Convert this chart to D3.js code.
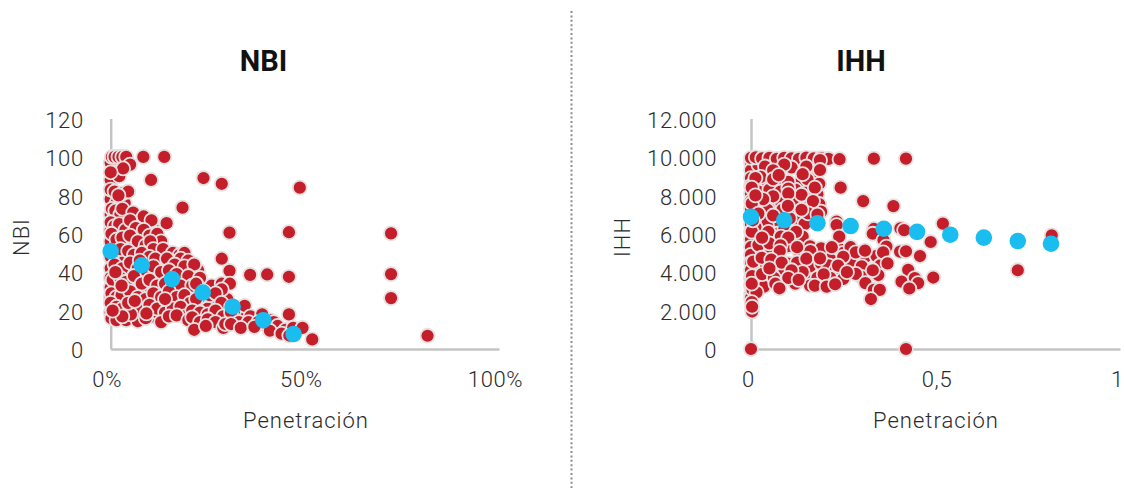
<!DOCTYPE html>
<html>
<head>
<meta charset="utf-8">
<script src="https://cdn.jsdelivr.net/npm/d3@7"></script>
<style>
  html, body { margin: 0; padding: 0; background: #fff; }
  svg { display: block; }
  text { font-family: Roboto, "Open Sans", sans-serif; fill: #2b2b2b; }
  .tick text { font-size: 22px; font-weight: 300; letter-spacing: 0.6px; }
  .axis-title { font-size: 22px; font-weight: 300; letter-spacing: 1px; }
  .chart-title { font-size: 29px; font-weight: 700; fill: #111; }
</style>
</head>
<body>
<svg id="chart" width="1124" height="488"></svg>
<script>
// [penetration %, NBI]
var nbiPoints = [
  [0,97],[0,88],[0,78],[0,70],[0,62],[0,56],[0,48],[0,42],[0,37],[0,32],[0,27],[0,19],
  [1,92],[2.2,90],[1.5,76],[3.6,76],[1.8,68],[4,68],[5.6,66],[6.8,66],[7.5,60],[9.5,64],[11.2,62],[4.2,56],[6,53],[8.2,58],[11.6,54],
  [2,47],[3.8,47],[6.4,44],[9,45],[12.4,45],[15,44],[17.6,41],[1.8,38],[3.4,39],[5.6,40],[7.8,38],[10.4,38],[12.6,37],[15,37],[18.6,36],
  [3.6,32],[6,32],[8.2,30],[10.2,32],[12.4,30],[14.6,32],[16.6,31],[20,31],[23,27],[26,33],[2,25],[4,27],[7.8,23],[10.4,25],[12.6,24],[15,24],
  [17,25],[19,25],[24,23],[26,24],[30,26],[32,18],[33,20],[37,16],[41,15],[25,21],[2,19],[4.2,19],[6.8,16],[11,17],[12,19],[22,17],[27,16],[35,17],
  [0.3,100],[1,100],[2,100],[3,100],[4,100],[8.4,100],[13.8,100],[5,96],[3.2,94],[0,92],[10.4,88],[23.9,89],[28.6,86],[48.7,84],
  [0,83],[1,82],[3,81],[4.5,82],[2,80],[0.3,73],[1.2,72],[2.5,70],[3,73],[5.8,71],[8.5,69],[10.5,67],[18.5,73.6],[14.4,65.5],
  [30.6,60.6],[45.9,60.8],[0,66],[1,64],[2.2,65],[3.8,62],[5,67],[6.5,63],[8.5,62],[10,59],[12,60],[13,56],[0.2,60],[1.5,57],
  [3,58],[5,59],[7,56],[9,54],[10.2,56],[11,52],[13.5,52],[16,50],[17.8,49],[19,50],[18,47],[20,46],[0.3,51],[2.5,52],[4.5,51],
  [6,49],[8,50],[10,48],[11.5,47],[14.5,47],[16.5,44],[19,43],[22.5,41],[21.5,44],[1,44],[3,42],[5,45],[7,42],[9,41],[11,43],
  [13,40],[15,41],[17,39],[20,38],[23,37],[0.5,36],[2.5,37],[4,35],[6,38],[8,34],[10,36],[12,33],[14,34],[16,35],[18,33],
  [21,33],[22,34],[24,30],[25.5,28],[0.2,29],[1.5,27],[2.8,28],[5,30],[7,27],[9,26],[11,29],[13,27],[15,30],[17,27],[19,28],
  [20.5,24],[22,26],[28.6,47],[30.6,40.7],[35.9,38.6],[40.3,38.8],[45.9,37.6],[28.6,34],[30.7,34],[28.6,31],[27,29],[28.5,24],
  [31,22],[34.5,22.5],[36,17],[39,18],[45.9,18],[0,24],[1.5,22],[3,21],[5,22],[6,19],[8,20],[10,23],[12,21],[14,19],[16,21],
  [18,22],[19,17],[21,20],[23,19],[25,18],[27,20],[29,17],[31,19],[33,14],[35.5,14],[38,14],[40,13],[42,14],[43,12],[45,10],
  [47,11],[49.4,11],[51.9,5],[0.2,16],[1.5,15],[4,15],[7,14.5],[9,16],[13,14],[15,17],[17,17.5],[20,15],[21,16.5],[23,14],
  [25,15.5],[27,14],[29,11],[29.5,13],[31,13],[33.5,11],[37,11.5],[41,9.5],[44,8],[46,7],[21.5,10],[24.5,12],[5.2,18],[3,17],
  [0.5,20],[2.8,33],[4.5,24],[6.2,25],[9.2,18.5],[14,26],[1.2,40],[7.5,46],[72.2,60.2],[72.2,39],[72.2,26.5],[81.6,6.9]
];
var nbiMeans = [[0,51],[8,43.6],[15.8,36.4],[23.7,29.4],[31.4,22],[39.3,15],[47.1,7.8]];

// [penetration, IHH]
var ihhPoints = [
  [0,9700],[0,9300],[0,8900],[0,8500],[0,8100],[0,7700],[0,7300],[0,6900],[0,6500],[0,6100],[0,5700],[0,5300],[0,4900],[0,4500],[0,4100],[0,3700],[0,3300],[0,2900],[0,2650],
  [0.02,9600],[0.04,9300],[0.07,9450],[0.12,9600],[0.145,9300],[0.17,9600],[0.025,8500],[0.045,8650],[0.08,8700],[0.13,8600],[0.175,8900],[0.185,8600],
  [0.02,8200],[0.05,8300],[0.08,8200],[0.12,8300],[0.15,8150],[0.18,8050],[0.025,7600],[0.05,7550],[0.08,7700],[0.125,7600],[0.16,7500],[0.185,7550],
  [0.02,7200],[0.045,7250],[0.085,7250],[0.125,7100],[0.15,6700],[0.19,7150],[0.02,6700],[0.045,6600],[0.08,6550],[0.12,6650],[0.145,6500],[0.02,6050],
  [0.05,5800],[0.07,6000],[0.115,5650],[0.14,5850],[0.03,5150],[0.055,5250],[0.1,5350],[0.13,5100],[0.16,5350],[0.18,4850],[0.205,4800],[0.22,5000],
  [0.24,5200],[0.25,5000],[0.27,4950],[0.295,4700],[0.31,4800],[0.34,4850],[0.02,4300],[0.04,4400],[0.07,4250],[0.1,4450],[0.125,4500],[0.16,4300],
  [0.19,4450],[0.21,4350],[0.23,4100],[0.27,4500],[0.3,4300],[0.35,4350],[0.02,3600],[0.045,3550],[0.085,3850],[0.12,3400],[0.15,3600],[0.18,3700],
  [0.215,3700],[0.25,3650],[0.3,3750],[0.345,3850],[0.035,3250],[0.055,3900],[0.16,3300],
  [0,9950],[0.013,9980],[0.03,9920],[0.05,9950],[0.07,9900],[0.09,9950],[0.11,9930],[0.13,9900],[0.15,9960],[0.17,9920],[0.19,9940],
  [0.21,9900],[0.24,9880],[0.333,9910],[0.42,9910],[0.187,9830],[0.187,9320],[0.15,9500],[0.11,9450],[0.09,9600],[0.038,9500],[0.06,9300],
  [0.026,8960],[0.06,8840],[0.101,8700],[0.153,8840],[0.173,8400],[0.012,8900],[0.243,8400],[0.304,7700],[0.386,7440],[0.002,8400],
  [0.137,8030],[0.101,8350],[0.101,8100],[0.06,7950],[0.033,7800],[0.168,7700],[0.002,7580],[0.012,8000],[0.155,7060],[0.137,7250],
  [0.18,7000],[0.02,7050],[0.06,6950],[0.105,6800],[0.232,6630],[0.232,6450],[0.52,6530],[0.333,6250],[0.405,6280],[0.415,6190],[0.33,6000],
  [0.012,6350],[0.047,6100],[0.09,6200],[0.122,6100],[0.002,6110],[0.081,5850],[0.101,5800],[0.239,5850],[0.359,5670],[0.487,5570],
  [0.02,5410],[0.05,5500],[0.08,5400],[0.078,5100],[0.19,5240],[0.161,5100],[0.219,5300],[0.27,5300],[0.367,5330],[0.284,5030],[0.309,5120],
  [0.358,5030],[0.404,5070],[0.42,5090],[0.458,4840],[0.006,4550],[0.029,4750],[0.055,4650],[0.083,4500],[0.15,4700],[0.187,4720],[0.25,4800],
  [0.236,4340],[0.37,4460],[0.33,4100],[0.426,4120],[0.284,3910],[0.26,4000],[0.197,3890],[0.14,4000],[0.11,4100],[0.003,3800],[0.03,3900],
  [0.062,3700],[0.101,3700],[0.129,3600],[0.066,3400],[0.077,3160],[0.173,3300],[0.205,3250],[0.228,3370],[0.31,3430],[0.333,3080],[0.349,3080],
  [0.325,2600],[0.494,3720],[0.408,3510],[0.444,3690],[0.453,3430],[0.429,3150],[0.004,3110],[0.015,2950],[0.002,3400],[0.002,2440],[0.003,1950],
  [0.003,2200],[0,0],[0.42,0],[0.005,6700],[0.03,5800],[0.05,4200],[0.125,5300],[0.1,7450],[0.14,9100],[0.075,9050],
  [0.815,5920],[0.723,4100]
];
var ihhMeans = [[0,6880],[0.09,6700],[0.18,6550],[0.27,6400],[0.36,6260],[0.45,6100],[0.54,5950],[0.631,5800],[0.723,5620],[0.813,5480]];

var nbiTicks = [0, 20, 40, 60, 80, 100, 120];
var ihhTicks = [0, 2000, 4000, 6000, 8000, 10000, 12000];
var nbiXTicks = [0, 50, 100];
var ihhXTicks = [0, 0.5, 1];

var esLocale = d3.formatLocale({ decimal: ',', thousands: '.', grouping: [3], currency: ['', ''] });

var svg = d3.select('#chart');

var drawPanel = function (opts) {
  var x = d3.scaleLinear().domain(opts.xDomain).range([opts.left, opts.right]);
  var y = d3.scaleLinear().domain(opts.yDomain).range([349, 118.5]);

  var g = svg.append('g');

  g.append('g')
    .attr('transform', 'translate(' + opts.left + ',0)')
    .call(d3.axisLeft(y).tickValues(opts.yTicks).tickSize(0).tickPadding(opts.yPadding).tickFormat(opts.yFormat))
    .selectAll('.tick text')
    .attr('dy', '0.4em');

  g.append('g')
    .attr('transform', 'translate(0,349)')
    .call(d3.axisBottom(x).tickValues(opts.xTicks).tickSize(0).tickPadding(22).tickFormat(opts.xFormat))
    .selectAll('.tick text')
    .attr('dx', function (d) { return opts.xTickShift(d); });

  g.selectAll('.domain')
    .attr('stroke', '#c4c4c4')
    .attr('stroke-width', 2.5);

  g.append('g').selectAll('circle')
    .data(opts.points)
    .enter().append('circle')
    .attr('cx', function (d) { return x(d[0]); })
    .attr('cy', function (d) { return y(d[1]); })
    .attr('r', 7)
    .attr('fill', '#c41e2a')
    .attr('stroke', '#e6e1e1')
    .attr('stroke-width', 1.8);

  g.append('g').selectAll('circle')
    .data(opts.means)
    .enter().append('circle')
    .attr('cx', function (d) { return x(d[0]); })
    .attr('cy', function (d) { return y(d[1]); })
    .attr('r', 8.3)
    .attr('fill', '#19bdf0');

  g.append('text')
    .attr('class', 'chart-title')
    .attr('x', opts.titleX)
    .attr('y', 71)
    .attr('text-anchor', 'middle')
    .text(opts.title);

  g.append('text')
    .attr('class', 'axis-title')
    .attr('x', opts.xTitleX)
    .attr('y', 428)
    .attr('text-anchor', 'middle')
    .text('Penetración');

  g.append('text')
    .attr('class', 'axis-title')
    .attr('transform', 'translate(' + opts.yTitleX + ',237) rotate(-90)')
    .attr('text-anchor', 'middle')
    .text(opts.title);
};

drawPanel({
  title: 'NBI', titleX: 263.5, xTitleX: 306, yTitleX: 29,
  left: 110.7, right: 499,
  xDomain: [0, 100], yDomain: [0, 120],
  xTicks: nbiXTicks, yTicks: nbiTicks, yPadding: 27,
  xTickShift: function () { return -4; },
  xFormat: function (d) { return d + '%'; },
  yFormat: esLocale.format('d'),
  points: nbiPoints, means: nbiMeans
});

drawPanel({
  title: 'IHH', titleX: 861, xTitleX: 936, yTitleX: 630,
  left: 751, right: 1120,
  xDomain: [0, 1], yDomain: [0, 12000],
  xTicks: ihhXTicks, yTicks: ihhTicks, yPadding: 34,
  xTickShift: function (d) { return d === 1 ? -3 : (d === 0 ? -3 : 1); },
  xFormat: function (d) { return esLocale.format('.1~f')(d); },
  yFormat: esLocale.format(',d'),
  points: ihhPoints, means: ihhMeans
});

// dotted divider between the panels
svg.append('line')
  .attr('x1', 571.5).attr('x2', 571.5)
  .attr('y1', 11).attr('y2', 488)
  .attr('stroke', '#8c8c8c')
  .attr('stroke-width', 2)
  .attr('stroke-dasharray', '2,2.4');
</script>
</body>
</html>
